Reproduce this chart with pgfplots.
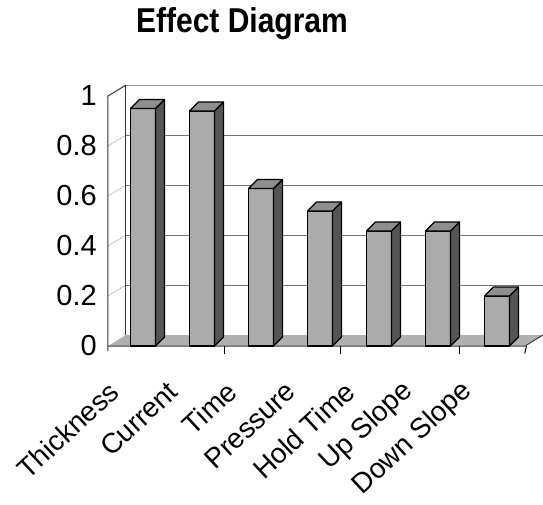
\documentclass[border=0pt]{standalone}
\usepackage{pgfplots}
\pgfplotsset{compat=1.18}
\usepackage{pgfplotstable}
\usepackage{graphicx}
\usepackage{fontspec}
\setmainfont{Liberation Sans}

\definecolor{frontgray}{HTML}{ABABAB}
\definecolor{sidegray}{HTML}{555555}
\definecolor{topgray}{HTML}{8E8E8E}
\definecolor{floorgray}{HTML}{B0B0B0}

% effect of each welding factor
\pgfplotstableread{
pos val
0 0.95
1 0.94
2 0.63
3 0.54
4 0.46
5 0.46
6 0.20
}\effects

% a plot mark that draws nothing; the faces are drawn by the scatter code
\pgfdeclareplotmark{nothing}{}

\begin{document}
\begin{tikzpicture}
\begin{axis}[
  x=59pt, y=250pt,
  xmin=-0.593, xmax=6.78, ymin=0, ymax=1,
  clip=false,
  axis line style={draw=none},
  major tick length=0pt,
  xtick=data,
  xticklabels={Thickness,Current,Time,Pressure,Hold Time,Up Slope,Down Slope},
  ytick={0,0.2,0.4,0.6,0.8,1},
  /pgf/number format/assume math mode=true,
  yticklabel style={font=\fontsize{29}{30}\selectfont, inner sep=0pt, xshift=-11pt},
  xticklabel style={font=\fontsize{28}{30}\selectfont, anchor=east, inner sep=0pt,
    xshift=-29pt, yshift=-41pt, rotate=43},
]
\coordinate (O) at (-0.593,0);

% floor
\fill[floorgray] (-0.593,0) -- (6.475,0) -- (6.78,0.044) -- (-0.288,0.044) -- cycle;
\draw[black!75, line width=1pt] (-0.593,0) -- (6.475,0) -- (6.78,0.044);

% back wall grid lines
\draw[black!55, line width=0.8pt] (-0.288,0.244) -- (6.78,0.244);
\draw[black!55, line width=0.8pt] (-0.288,0.444) -- (6.78,0.444);
\draw[black!55, line width=0.8pt] (-0.288,0.644) -- (6.78,0.644);
\draw[black!55, line width=0.8pt] (-0.288,0.844) -- (6.78,0.844);
\draw[black!40, line width=0.8pt] (-0.288,1.044) -- (6.78,1.044);

% side wall grid lines
\draw[black!45, densely dotted, line width=0.8pt] (-0.593,0.2) -- (-0.288,0.244);
\draw[black!45, densely dotted, line width=0.8pt] (-0.593,0.4) -- (-0.288,0.444);
\draw[black!45, densely dotted, line width=0.8pt] (-0.593,0.6) -- (-0.288,0.644);
\draw[black!45, densely dotted, line width=0.8pt] (-0.593,0.8) -- (-0.288,0.844);

% wall edges
\draw[black!80, line width=1pt] (-0.593,-0.02) -- (-0.593,1) -- (-0.288,1.044);
\draw[black!80, line width=1pt] (-0.288,0.044) -- (-0.288,1.044);

% category separators below the floor
\draw[black, line width=1pt] (1.39,0) -- (1.39,-0.03);
\draw[black, line width=1pt] (3.34,0) -- (3.34,-0.03);
\draw[black, line width=1pt] (5.37,0) -- (5.37,-0.03);
\draw[black, line width=1pt] (6.50,0) -- (6.47,-0.03);

% front faces of the columns
\addplot[ybar, bar width=25pt, fill=frontgray, draw=black, line width=1.1pt]
  table[x=pos, y=val] {\effects};

% side and top faces of the columns
\addplot[scatter, only marks, mark=nothing,
  visualization depends on={rawy \as \hval},
  scatter/@pre marker code/.code={%
    \pgfmathsetlengthmacro\hh{\hval*250}%
    \filldraw[fill=sidegray, draw=black, line width=1.1pt, line join=round]
      (12.5pt,0pt) -- (21.5pt,9pt) -- (21.5pt,{9pt-\hh}) -- (12.5pt,-\hh) -- cycle;
    \filldraw[fill=topgray, draw=black, line width=1.1pt, line join=round]
      (-12.5pt,0pt) -- (12.5pt,0pt) -- (21.5pt,9pt) -- (-3.5pt,9pt) -- cycle;
  },
  scatter/@post marker code/.code={},
] table[x=pos, y=val] {\effects};
\end{axis}

\node[font=\bfseries\fontsize{30}{32}\selectfont]
  at ([shift={(134pt,322pt)}]O) {\scalebox{1}[1.15]{Effect Diagram}};

\pgfresetboundingbox
\path ([shift={(-108pt,-158pt)}]O) rectangle ++(543pt,504pt);
\end{tikzpicture}
\end{document}
